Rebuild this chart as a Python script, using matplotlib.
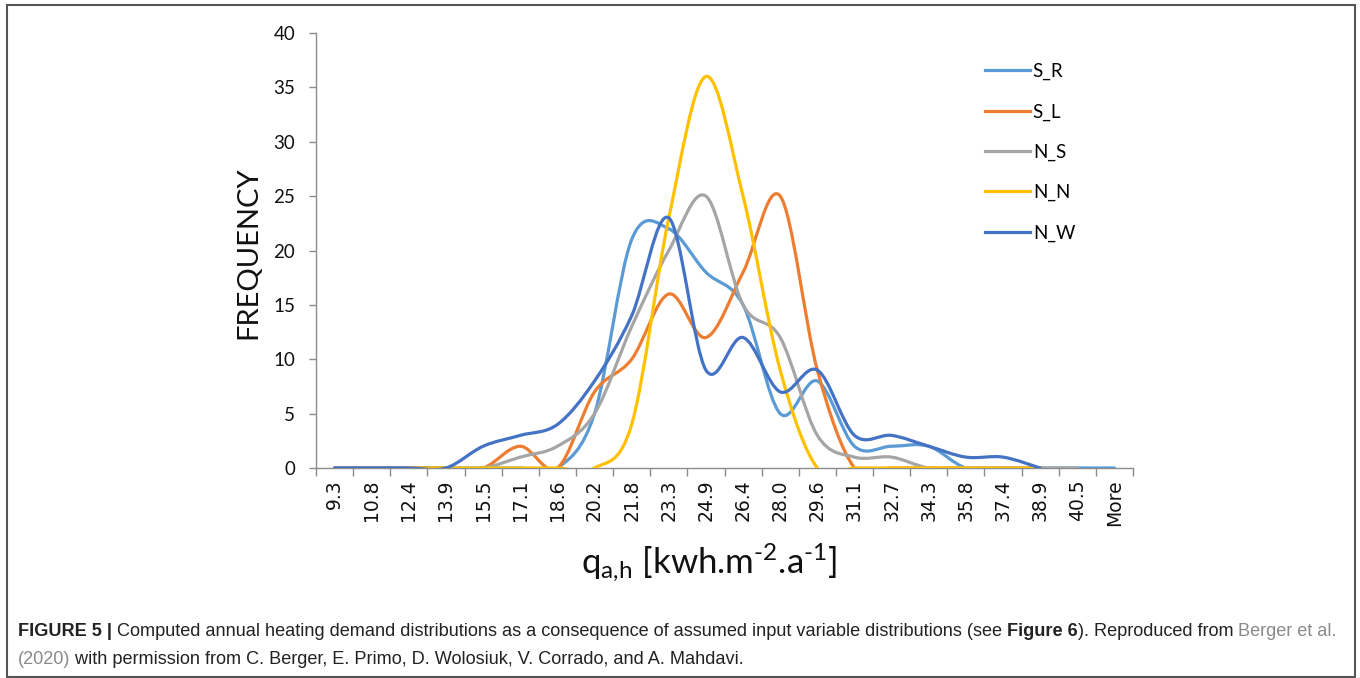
import matplotlib
matplotlib.use('Agg')
import matplotlib.pyplot as plt
import numpy as np
from matplotlib.path import Path
from matplotlib.patches import PathPatch, Rectangle
from matplotlib.lines import Line2D
from matplotlib.transforms import Bbox, TransformedBbox

# bins of annual heating demand (categories on the x axis)
bins = ['9.3', '10.8', '12.4', '13.9', '15.5', '17.1', '18.6', '20.2', '21.8', '23.3', '24.9',
        '26.4', '28.0', '29.6', '31.1', '32.7', '34.3', '35.8', '37.4', '38.9', '40.5', 'More']

# frequencies (None = no point)
s_r = [0, 0, 0, 0, 0, 0, 0, 5, 21, 22, 18, 15, 5, 8, 2, 2, 2, 0, 0, 0, 0, 0]
s_l = [0, 0, 0, 0, 0, 2, 0, 7, 10, 16, 12, 18, 25, 9, 0, 0, 0, 0, 0, 0, None, None]
n_s = [0, 0, 0, 0, 0, 1, 2, 5, 13, 20, 25, 15, 12, 3, 1, 1, 0, 0, 0, 0, 0, None]
n_n = [None, None, 0, 0, 0, 0, 0, 0, 4, 23, 36, 25, 9, 0, 0, 0, 0, 0, 0, 0, None, None]
n_w = [0, 0, 0, 0, 2, 3, 4, 8, 14, 23, 9, 12, 7, 9, 3, 3, 2, 1, 1, 0, None, None]

labels = ['S_R', 'S_L', 'N_S', 'N_N', 'N_W']
colors = ['#5B9BD5', '#ED7D31', '#A5A5A5', '#FFC000', '#4472C4']
series = [s_r, s_l, n_s, n_n, n_w]
draw_order = [0, 1, 2, 4, 3]


def smooth_path(vals):
    # Excel-like smoothed line: cubic Bezier segments through each point
    pts = [(i, v) for i, v in enumerate(vals) if v is not None]
    p = np.array(pts, dtype=float)
    n = len(p)
    verts = [p[0]]
    codes = [Path.MOVETO]
    for k in range(n - 1):
        p0 = p[k - 1] if k > 0 else p[k]
        p1 = p[k]
        p2 = p[k + 1]
        p3 = p[k + 2] if k + 2 < n else p[k + 1]
        c1 = p1 + (p2 - p0) / 6.0
        c2 = p2 - (p3 - p1) / 6.0
        verts += [c1, c2, p2]
        codes += [Path.CURVE4] * 3
    return Path(verts, codes)


plt.rcParams['font.family'] = ['Lato', 'DejaVu Sans']
plt.rcParams['mathtext.fontset'] = 'custom'
plt.rcParams['mathtext.rm'] = 'Lato'
plt.rcParams['mathtext.it'] = 'Lato'

fig = plt.figure(figsize=(13.6, 6.78), dpi=100)
ax = fig.add_axes([316 / 1360, 1 - 468 / 678, (1133 - 316) / 1360, (468 - 33) / 678])

clip = TransformedBbox(Bbox([[0, -0.007], [1, 1]]), ax.transAxes)
for i in draw_order:
    patch = PathPatch(smooth_path(series[i]), facecolor='none', edgecolor=colors[i],
                      lw=2.3, zorder=3 + i * 0.01, capstyle='round', joinstyle='round')
    patch.set_clip_box(clip)
    ax.add_patch(patch)

x = np.arange(len(bins))
ax.set_xlim(-0.5, len(bins) - 0.5)
ax.set_ylim(0, 40)
ax.set_yticks(np.arange(0, 41, 5))
ax.set_xticks(x)
ax.set_xticklabels(bins, rotation=90, fontfamily='DejaVu Sans', fontsize=13.5, color='#111')
ax.set_xticks(np.arange(-0.5, len(bins), 1), minor=True)
ax.tick_params(axis='x', which='major', length=0, pad=8)
ax.tick_params(axis='x', which='minor', length=6, color='#8c8c8c', width=1)
ax.tick_params(axis='y', length=5, color='#8c8c8c', width=1, pad=10, labelsize=13.5, labelcolor='#111')

for s in ['top', 'right']:
    ax.spines[s].set_visible(False)
for s in ['left', 'bottom']:
    ax.spines[s].set_color('#8c8c8c')
    ax.spines[s].set_linewidth(1)

handles = [Line2D([], [], color=c, lw=2.3) for c in colors]
fig.legend(handles, labels, loc='upper left', bbox_to_anchor=(985 / 1360, 1 - 63 / 678),
           frameon=False, fontsize=13.5, handlelength=2.4, handletextpad=0.15,
           labelspacing=1.23, borderpad=0, borderaxespad=0)

fig.text(248 / 1360, 1 - 253 / 678, 'FREQUENCY', rotation=90, ha='center', va='center',
         fontsize=21, color='#111')
fig.text(709 / 1360, 1 - 563 / 678, r'q$_{\mathrm{a{,}h}}$ [kwh.m$^{\text{-2}}$.a$^{\text{-1}}$]',
         ha='center', va='center', fontsize=25, color='#111')

# caption with mixed styles, pieces chained one after another
cap_font = 'Liberation Sans'
cap_size = 13.1
dark = '#222222'
grey = '#8a8a8a'
line1 = [('FIGURE 5 |', 'bold', dark),
         (' Computed annual heating demand distributions as a consequence of assumed input variable distributions (see ', 'normal', dark),
         ('Figure 6', 'bold', dark),
         ('). Reproduced from ', 'normal', dark),
         ('Berger et al.', 'normal', grey)]
line2 = [('(2020)', 'normal', grey),
         (' with permission from C. Berger, E. Primo, D. Wolosiuk, V. Corrado, and A. Mahdavi.', 'normal', dark)]

for pieces, ypix in [(line1, 636), (line2, 664)]:
    prev = None
    for txt, wt, col in pieces:
        if prev is None:
            prev = fig.text(18 / 1360, 1 - ypix / 678, txt, family=cap_font, fontsize=cap_size,
                            weight=wt, color=col, ha='left', va='baseline')
        else:
            prev = ax.annotate(txt, xy=(1, 0), xycoords=prev, family=cap_font,
                               fontsize=cap_size, weight=wt, color=col, ha='left', va='bottom',
                               annotation_clip=False)

fig.add_artist(Rectangle((7 / 1360, 1 - 677 / 678), (1355 - 7) / 1360, (677 - 5) / 678,
                         transform=fig.transFigure, fill=False, ec='#555555', lw=1.5))

plt.savefig('out.png', dpi=100)
